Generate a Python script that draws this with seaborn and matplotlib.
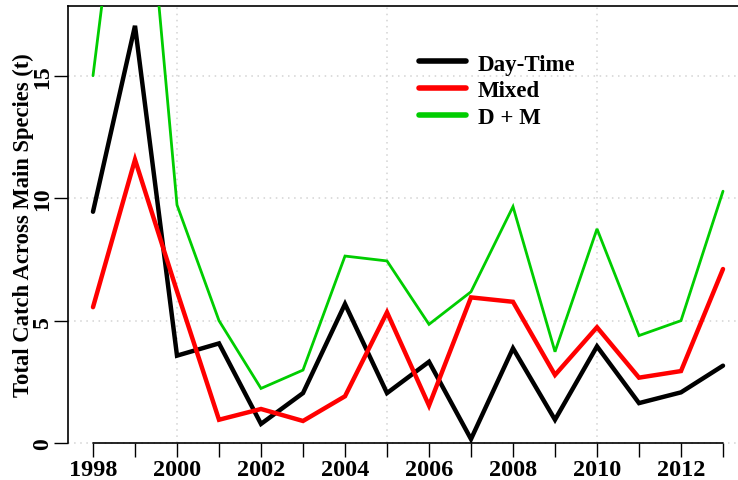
import matplotlib
matplotlib.use("Agg")
import matplotlib.pyplot as plt
import seaborn as sns
import pandas as pd
from matplotlib.lines import Line2D

years = list(range(1998, 2014))
day_time = [9.45, 17.05, 3.57, 4.07, 0.78, 2.04, 5.68, 2.04, 3.32, 0.16, 3.87, 0.95, 3.95, 1.63, 2.07, 3.16]
mixed = [5.55, 11.58, 6.2, 0.95, 1.39, 0.9, 1.91, 5.34, 1.53, 5.95, 5.77, 2.78, 4.73, 2.67, 2.94, 7.11]
d_plus_m = [15.01, 28.7, 9.73, 5.0, 2.23, 2.98, 7.64, 7.44, 4.85, 6.18, 9.66, 3.73, 8.75, 4.39, 5.0, 10.29]
series_names = ["Day-Time", "Mixed", "D + M"]
series_colors = ["#000000", "#FF0000", "#00CD00"]
series_widths = [3.2, 3.2, 2.0]
y_label = "Total Catch Across Main Species (t)"

sns.set_style("white")
plt.rcParams["font.family"] = ["Liberation Serif", "DejaVu Serif"]
plt.rcParams["font.weight"] = "bold"
for k in ["text.color", "axes.labelcolor", "xtick.color", "ytick.color"]:
    plt.rcParams[k] = "black"

df = pd.DataFrame({
    "year": years * 3,
    "value": day_time + mixed + d_plus_m,
    "series": [series_names[0]] * len(years) + [series_names[1]] * len(years) + [series_names[2]] * len(years),
})

W, H = 738, 481
fig = plt.figure(figsize=(W / 100, H / 100), dpi=100)
ax = fig.add_axes([68 / W, (H - 444) / H, (W - 68) / W, (444 - 7) / H])

for name, col, lw in zip(series_names, series_colors, series_widths):
    sub = df[df["series"] == name]
    sns.lineplot(data=sub, x="year", y="value", color=col, linewidth=lw, ax=ax,
                 legend=False, zorder=3, solid_joinstyle="miter")

ax.set_xlim(1998 - 25 / 42, 1998 + (738 - 93) / 42)
ax.set_ylim(0, (444 - 7) / 24.47)

# grid
for yv in [0, 5, 10, 15]:
    ax.axhline(yv, color="#d3d3d3", linestyle=(0, (1, 3)), linewidth=1.1, zorder=1, clip_on=False)
for xv in [2000, 2005, 2010]:
    ax.axvline(xv, color="#d3d3d3", linestyle=(0, (1, 3)), linewidth=1.1, zorder=1)
# x-axis line from first to last tick (R style)
ax.plot([years[0], years[-1]], [0, 0], color="black", linewidth=1.2, zorder=2, clip_on=False)

ax.set_xticks(years)
ax.set_xticklabels([str(y) if y % 2 == 0 else "" for y in years], fontsize=17.5, fontweight="bold", color="black")
ax.set_yticks([0, 5, 10, 15])
ax.set_yticklabels(["0", "5", "10", "15"], fontsize=17, fontweight="bold", rotation=90, va="center", color="black")
ax.tick_params(axis="both", which="major", direction="out", length=10, width=1.0, color="black",
               bottom=True, left=True, top=False, right=False)
ax.tick_params(axis="x", pad=1.5)
ax.tick_params(axis="y", pad=0.5)

ax.set_xlabel("")
ax.set_ylabel(y_label, fontsize=16.3, fontweight="bold", color="black")
ax.yaxis.set_label_coords(-(68 - 13) / (W - 68), 0.5)
ax.yaxis.label.set_va("top")

for s in ["left", "top"]:
    ax.spines[s].set_visible(True)
    ax.spines[s].set_color("black")
    ax.spines[s].set_linewidth(1.2)
ax.spines["right"].set_visible(False)
ax.spines["bottom"].set_visible(False)

handles = [Line2D([0], [0], color=c, linewidth=4) for c in series_colors]
fig.legend(handles, series_names, loc="upper left", bbox_to_anchor=(408 / W, 1 - 43 / H),
           frameon=False, borderpad=0, handlelength=2.05, handletextpad=0.5,
           labelspacing=0.25, prop={"family": "Liberation Serif", "weight": "bold", "size": 16.5})

fig.savefig("out.png", dpi=100)
